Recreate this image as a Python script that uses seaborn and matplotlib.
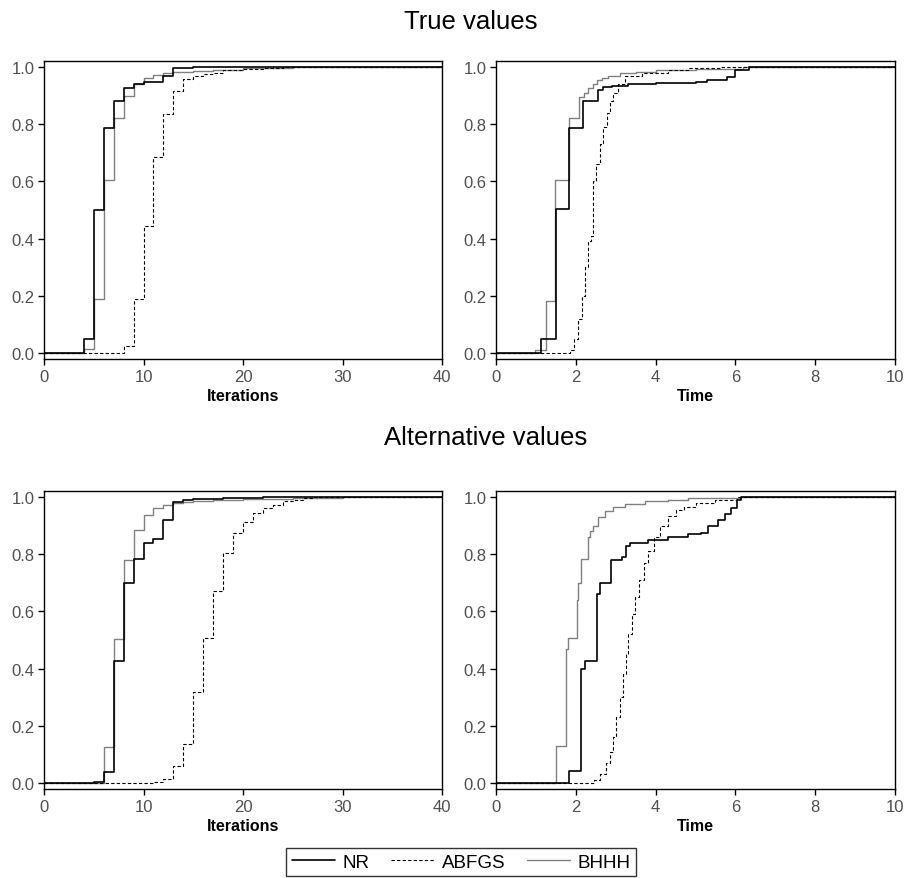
import matplotlib
matplotlib.use("Agg")
import matplotlib.pyplot as plt
import seaborn as sns
from matplotlib.lines import Line2D

# True values, iterations
nr_iter_true_x = [0, 4, 5, 6, 7, 8, 9, 10, 12, 13, 15, 40]
nr_iter_true_y = [0, 0.05, 0.50, 0.787, 0.88, 0.927, 0.94, 0.947, 0.968, 0.995, 1.0, 1.0]
abfgs_iter_true_x = [0, 8, 9, 10, 11, 12, 13, 14, 15, 16, 17, 18, 20, 22, 24, 40]
abfgs_iter_true_y = [0, 0.025, 0.19, 0.443, 0.685, 0.834, 0.916, 0.957, 0.967, 0.975, 0.98, 0.988, 0.993, 0.997, 1.0, 1.0]
bhhh_iter_true_x = [0, 4, 5, 6, 7, 8, 9, 10, 11, 12, 13, 15, 17, 20, 25, 40]
bhhh_iter_true_y = [0, 0.015, 0.19, 0.605, 0.82, 0.898, 0.94, 0.961, 0.972, 0.978, 0.982, 0.987, 0.99, 0.995, 1.0, 1.0]

# True values, time
nr_time_true_x = [0, 1.13, 1.51, 1.83, 2.18, 2.56, 2.68, 2.9, 3.3, 4.0, 5.0, 5.3, 5.8, 6.0, 6.35, 10]
nr_time_true_y = [0, 0.049, 0.502, 0.788, 0.881, 0.92, 0.93, 0.935, 0.94, 0.945, 0.948, 0.955, 0.965, 0.99, 1.0, 1.0]
abfgs_time_true_x = [0, 1.85, 1.95, 2.05, 2.15, 2.22, 2.31, 2.37, 2.43, 2.5, 2.6, 2.68, 2.77, 2.85, 2.93,
                     3.06, 3.23, 3.65, 4.3, 4.8, 5.65, 10]
abfgs_time_true_y = [0, 0.01, 0.05, 0.12, 0.2, 0.3, 0.39, 0.41, 0.6, 0.66, 0.73, 0.79, 0.84, 0.88, 0.91,
                     0.94, 0.97, 0.98, 0.99, 0.995, 1.0, 1.0]
bhhh_time_true_x = [0, 0.97, 1.26, 1.49, 1.83, 2.08, 2.2, 2.31, 2.42, 2.52, 2.65, 2.81, 3.1, 3.5, 4.0, 5.0, 6.2, 10]
bhhh_time_true_y = [0, 0.01, 0.183, 0.605, 0.822, 0.895, 0.91, 0.925, 0.94, 0.955, 0.962, 0.97, 0.978, 0.983,
                    0.988, 0.993, 1.0, 1.0]

# Alternative values, iterations
nr_iter_alt_x = [0, 5, 6, 7, 8, 9, 10, 11, 12, 13, 14, 15, 18, 22, 40]
nr_iter_alt_y = [0, 0.005, 0.04, 0.426, 0.70, 0.784, 0.84, 0.854, 0.92, 0.984, 0.99, 0.994, 0.997, 1.0, 1.0]
abfgs_iter_alt_x = [0, 11, 12, 13, 14, 15, 16, 17, 18, 19, 20, 21, 22, 23, 24, 25, 26, 27, 40]
abfgs_iter_alt_y = [0, 0.003, 0.015, 0.058, 0.137, 0.317, 0.508, 0.673, 0.805, 0.875, 0.914, 0.945, 0.96,
                    0.973, 0.985, 0.99, 0.995, 1.0, 1.0]
bhhh_iter_alt_x = [0, 6, 7, 8, 9, 10, 11, 12, 13, 14, 15, 17, 20, 25, 30, 40]
bhhh_iter_alt_y = [0, 0.127, 0.504, 0.78, 0.884, 0.936, 0.962, 0.972, 0.978, 0.982, 0.985, 0.99, 0.994, 0.997, 1.0, 1.0]

# Alternative values, time
nr_time_alt_x = [0, 1.82, 2.14, 2.22, 2.52, 2.60, 2.89, 3.15, 3.27, 3.35, 3.81, 4.31, 4.8, 5.15, 5.32,
                 5.57, 5.74, 5.9, 6.03, 6.15, 10]
nr_time_alt_y = [0, 0.041, 0.40, 0.425, 0.66, 0.70, 0.78, 0.79, 0.83, 0.84, 0.85, 0.86, 0.87, 0.875, 0.90,
                 0.92, 0.94, 0.96, 0.99, 1.0, 1.0]
abfgs_time_alt_x = [0, 2.45, 2.6, 2.75, 2.85, 2.93, 3.02, 3.1, 3.18, 3.25, 3.32, 3.4, 3.48, 3.58, 3.7, 3.8,
                    3.95, 4.1, 4.3, 4.5, 4.7, 5.0, 5.5, 6.05, 10]
abfgs_time_alt_y = [0, 0.01, 0.03, 0.07, 0.11, 0.16, 0.23, 0.3, 0.38, 0.45, 0.52, 0.59, 0.65, 0.71, 0.77,
                    0.81, 0.86, 0.9, 0.935, 0.955, 0.965, 0.978, 0.99, 1.0, 1.0]
bhhh_time_alt_x = [0, 1.50, 1.75, 1.80, 2.02, 2.06, 2.12, 2.31, 2.36, 2.43, 2.56, 2.73, 2.93, 3.23, 3.73,
                   4.3, 4.8, 6.15, 10]
bhhh_time_alt_y = [0, 0.128, 0.47, 0.508, 0.64, 0.70, 0.784, 0.86, 0.88, 0.90, 0.93, 0.95, 0.965, 0.975,
                   0.985, 0.99, 0.995, 1.0, 1.0]

methods = ["NR", "ABFGS", "BHHH"]
line_styles = {
    "NR": dict(color="black", linewidth=1.2, linestyle="-"),
    "ABFGS": dict(color="black", linewidth=0.8, linestyle=(0, (3, 2))),
    "BHHH": dict(color="#808080", linewidth=1.0, linestyle="-"),
}

panels = [
    # (axes rect in px: left, top, right, bottom), xlim, xticks, xlabel, series
    ((44, 62, 442, 360), 40, [0, 10, 20, 30, 40], "Iterations",
     [(nr_iter_true_x, nr_iter_true_y), (abfgs_iter_true_x, abfgs_iter_true_y), (bhhh_iter_true_x, bhhh_iter_true_y)]),
    ((496, 62, 895, 360), 10, [0, 2, 4, 6, 8, 10], "Time",
     [(nr_time_true_x, nr_time_true_y), (abfgs_time_true_x, abfgs_time_true_y), (bhhh_time_true_x, bhhh_time_true_y)]),
    ((44, 492, 442, 790), 40, [0, 10, 20, 30, 40], "Iterations",
     [(nr_iter_alt_x, nr_iter_alt_y), (abfgs_iter_alt_x, abfgs_iter_alt_y), (bhhh_iter_alt_x, bhhh_iter_alt_y)]),
    ((496, 492, 895, 790), 10, [0, 2, 4, 6, 8, 10], "Time",
     [(nr_time_alt_x, nr_time_alt_y), (abfgs_time_alt_x, abfgs_time_alt_y), (bhhh_time_alt_x, bhhh_time_alt_y)]),
]

sns.set_style("white")
plt.rcParams["font.family"] = ["Liberation Sans", "DejaVu Sans"]

W, H = 905, 879
fig = plt.figure(figsize=(W / 100, H / 100), dpi=100)

for (l, t, r, b), xmax, xticks, xlabel, series in panels:
    ax = fig.add_axes([l / W, 1 - b / H, (r - l) / W, (b - t) / H])
    # draw BHHH first so black lines sit on top
    for idx in [2, 1, 0]:
        xs, ys = series[idx]
        sns.lineplot(x=xs, y=ys, ax=ax, drawstyle="steps-post", estimator=None, sort=False,
                     **line_styles[methods[idx]])
    ax.set_xlim(0, xmax)
    ax.set_ylim(-0.021, 1.021)
    ax.set_xticks(xticks)
    ax.set_yticks([0, 0.2, 0.4, 0.6, 0.8, 1.0])
    ax.set_yticklabels(["0.0", "0.2", "0.4", "0.6", "0.8", "1.0"])
    ax.tick_params(direction="out", length=4, width=1, labelsize=12, colors="black",
                   labelcolor="#505050", pad=3, left=True, bottom=True)
    ax.set_xlabel(xlabel, fontsize=11.5, fontweight="bold", labelpad=3, color="black")
    ax.set_ylabel("")
    for sp in ax.spines.values():
        sp.set_color("black")
        sp.set_linewidth(1.0)

fig.text(471 / W, 1 - 22 / H, "True values", ha="center", va="center", fontsize=18.5, color="black")
fig.text(486 / W, 1 - 438 / H, "Alternative values", ha="center", va="center", fontsize=18.5, color="black")

handles = [Line2D([], [], **line_styles[m]) for m in methods]
leg = fig.legend(handles, methods, loc="center", bbox_to_anchor=(461 / W, 1 - 863 / H), ncol=3,
                 fontsize=13.5, frameon=True, fancybox=False, shadow=False, handlelength=2.3,
                 handletextpad=0.4, columnspacing=1.15, borderpad=0.3, borderaxespad=0)
leg.get_frame().set_edgecolor("black")
leg.get_frame().set_linewidth(1.0)
for txt in leg.get_texts():
    txt.set_color("black")

fig.savefig("out.png", dpi=100)
